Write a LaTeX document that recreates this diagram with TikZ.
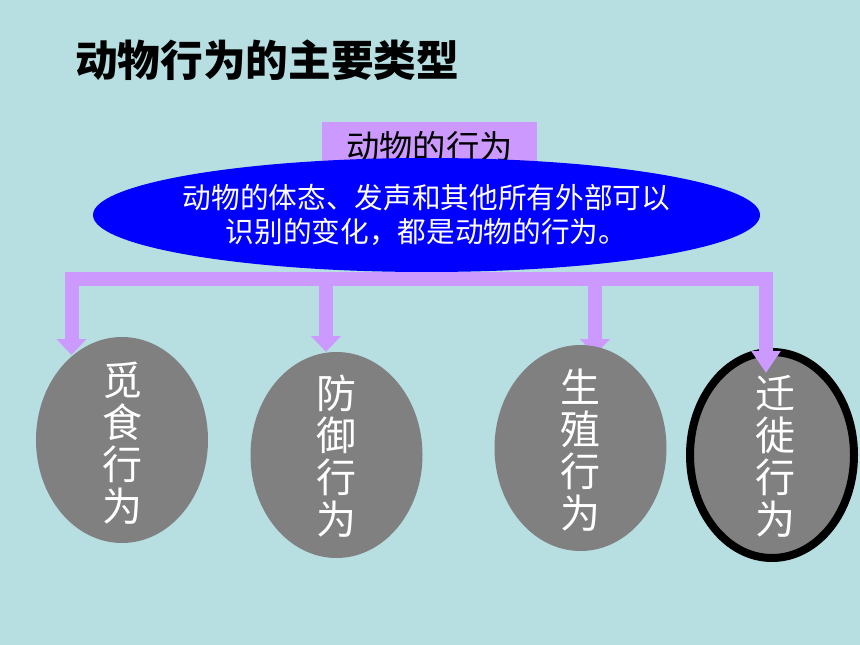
\documentclass[tikz,border=0pt]{standalone}
\usepackage{fontspec}
\setmainfont{Noto Sans CJK SC}
\usepackage{xcolor}
\definecolor{colBg}{RGB}{183,222,224}
\definecolor{colBus}{RGB}{204,153,255}
\definecolor{colDefn}{RGB}{0,0,255}
\definecolor{colCat}{RGB}{128,128,128}
\usepackage{tikz}
\usetikzlibrary{arrows.meta, shapes.geometric}

\begin{document}
\begin{tikzpicture}[x=0.75pt, y=-0.75pt,
	bus/.style={colBus, line width=10.5pt, line join=miter},
	tip/.style={-{Triangle[width=21.75pt, length=12pt]}},
	cat/.style={ellipse, fill=colCat, inner sep=0pt, minimum width=129pt, minimum height=154.5pt},
	cattext/.style={text=white, align=center, inner sep=0pt, font=\fontsize{30}{31.5}\selectfont}]
	\fill[colBg] (0,0) rectangle (860,645);
	\useasboundingbox (0,0) rectangle (860,645);
	% title and definition
	\node[font=\bfseries\fontsize{32}{36}\selectfont] (title) at (267,60) {动物行为的主要类型};
	\node[fill=colBus, minimum width=161.25pt, minimum height=37.5pt, inner sep=0pt,
		font=\fontsize{25}{28}\selectfont] (header) at (429.5,147) {动物的行为};
	\node[ellipse, fill=colDefn, minimum width=500.25pt, minimum height=85.5pt, inner sep=0pt] (defn) at (426.5,215) {};
	\node[text=white, align=center, inner sep=0pt, font=\fontsize{21.5}{26}\selectfont] (defnText) at (defn.center)
		{动物的体态、发声和其他所有外部可以\\识别的变化，都是动物的行为。};
	% bus with arrows
	\coordinate (c4) at (766,279);
	\coordinate (b2) at (326,279);
	\coordinate (b3) at (595,279);
	\coordinate (t1) at (71.5,355);
	\coordinate (t2) at (326,352);
	\coordinate (t3) at (595,355);
	\coordinate (t4) at (766,373);
	\draw[bus, {Triangle[width=21.75pt, length=12pt]}-, line cap=rect] (t1) |- (c4);
	\draw[bus, tip] (b2) -- (t2);
	\draw[bus, tip] (b3) -- (t3);
	% behaviour types
	\node[cat] (forage) at (122,440) {};
	\node[cattext] (forageText) at (122,443) {觅\\食\\行\\为};
	\node[cat] (defend) at (336.5,455) {};
	\node[cattext] (defendText) at (336,456) {防\\御\\行\\为};
	\node[cat] (breed) at (580.5,448) {};
	\node[cattext] (breedText) at (580,450) {生\\殖\\行\\为};
	\node[cat, draw=black, line width=6pt, minimum width=123pt] (migrate) at (772,455) {};
	\node[cattext] (migrateText) at (775,456) {迁\\徙\\行\\为};
	\draw[bus, -{Triangle[width=21pt, length=16.5pt]}] (c4) -- (t4);
\end{tikzpicture}
\end{document}
